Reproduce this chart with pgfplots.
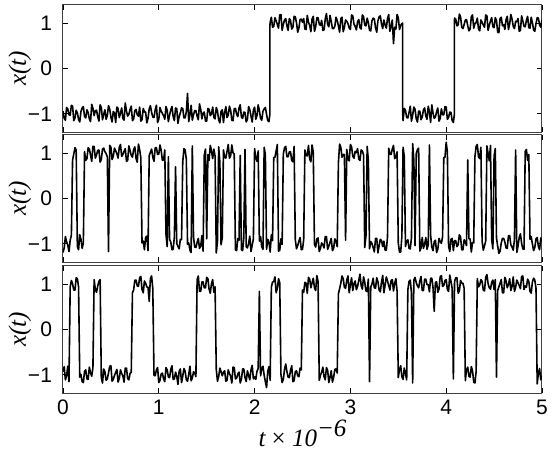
\documentclass[border=0pt]{standalone}
\usepackage{fontspec}
\setmainfont{Liberation Sans}
\newfontfamily\tfont{Liberation Serif}
\usepackage{pgfplots}
\pgfplotsset{compat=1.18}

\pgfplotsset{
  panel/.style={
    width=239.5pt, height=63.5pt, scale only axis,
    xmin=0, xmax=5, ymin=-1.4, ymax=1.4,
    xtick={0,1,2,3,4,5}, ytick={-1,0,1}, yticklabels={−1,0,1},
    tick align=inside, major tick length=2.5pt,
    tick style={black, line width=0.4pt},
    axis line style={line width=0.5pt, black!75},
    tick label style={font=\fontsize{10.5}{12}\selectfont},
    yticklabel style={xshift=-2pt},
    ylabel={\tfont\itshape x(t)},
    ylabel style={font=\fontsize{12.5}{14}\selectfont, at={(axis description cs:-0.09,0.5)}, anchor=center},
  },
  sig/.style={black, no marks, line width=0.8pt, line join=round},
}

\begin{document}
\begin{tikzpicture}
\path[use as bounding box] (-31.5pt,2.5pt) rectangle (245.5pt,-227.5pt);

% panel 1
\begin{axis}[panel, at={(0pt,0pt)}, anchor=north west, xticklabels={}]
\addplot[sig] coordinates {
(0,-0.94) (0.0125,-1.10) (0.025,-1.14) (0.0375,-0.86) (0.05,-0.89) (0.0625,-1.02) (0.075,-1.03) (0.0875,-0.81) (0.1,-0.83) (0.1125,-1.15)
(0.125,-1.09) (0.1375,-0.92) (0.15,-0.98) (0.1625,-1.12) (0.175,-1.18) (0.1875,-0.95) (0.2,-0.87) (0.2125,-0.84) (0.225,-1.06) (0.2375,-1.09)
(0.25,-0.91) (0.2625,-0.97) (0.275,-1.11) (0.2875,-1.17) (0.3,-0.79) (0.3125,-0.88) (0.325,-1.04) (0.3375,-0.93) (0.35,-0.92) (0.3625,-1.06)
(0.375,-1.16) (0.3875,-0.80) (0.4,-0.86) (0.4125,-1.13) (0.425,-1.01) (0.4375,-0.91) (0.45,-1.12) (0.4625,-1.04) (0.475,-0.82) (0.4875,-0.89)
(0.5,-1.07) (0.5125,-1.18) (0.525,-0.95) (0.5375,-0.98) (0.55,-1.19) (0.5625,-0.85) (0.575,-0.88) (0.5875,-1.08) (0.6,-0.99) (0.6125,-0.87)
(0.625,-1.10) (0.6375,-1.14) (0.65,-0.76) (0.6625,-0.94) (0.675,-1.05) (0.6875,-1.01) (0.7,-0.90) (0.7125,-0.83) (0.725,-1.15) (0.7375,-1.11)
(0.75,-0.93) (0.7625,-0.90) (0.775,-1.02) (0.7875,-1.05) (0.8,-0.85) (0.8125,-1.16) (0.825,-1.13) (0.8375,-0.88) (0.85,-0.96) (0.8625,-0.96)
(0.875,-1.20) (0.8875,-1.10) (0.9,-0.89) (0.9125,-0.82) (0.925,-0.97) (0.9375,-1.07) (0.95,-1.08) (0.9625,-0.91) (0.975,-0.81) (0.9875,-1.19)
(1.0,-1.12) (1.0125,-0.86) (1.025,-0.94) (1.0375,-0.99) (1.05,-1.04) (1.0625,-1.12) (1.075,-0.84) (1.0875,-0.92) (1.1,-1.17) (1.1125,-1.03)
(1.125,-0.91) (1.1375,-0.84) (1.15,-1.06) (1.1625,-1.15) (1.175,-0.87) (1.1875,-0.89) (1.2,-1.21) (1.2125,-1.06) (1.225,-0.98) (1.2375,-0.87)
(1.25,-0.88) (1.2625,-1.09) (1.275,-1.09) (1.2875,-0.95) (1.3,-0.55) (1.3125,-1.17) (1.325,-1.02) (1.3375,-0.81) (1.35,-1.14) (1.3625,-1.02)
(1.375,-0.93) (1.3875,-0.93) (1.4,-1.05) (1.4125,-1.13) (1.425,-0.78) (1.4375,-0.90) (1.45,-1.11) (1.4625,-0.98) (1.475,-0.96) (1.4875,-1.16)
(1.5,-1.16) (1.5125,-0.88) (1.525,-0.90) (1.5375,-1.04) (1.55,-1.00) (1.5625,-0.85) (1.575,-1.08) (1.5875,-1.11) (1.6,-0.86) (1.6125,-0.94)
(1.625,-1.13) (1.6375,-1.20) (1.65,-0.95) (1.6625,-0.91) (1.675,-1.19) (1.6875,-0.97) (1.7,-0.84) (1.7125,-1.08) (1.725,-1.03) (1.7375,-0.83)
(1.75,-0.92) (1.7625,-1.14) (1.775,-1.15) (1.7875,-0.89) (1.8,-0.88) (1.8125,-1.01) (1.825,-1.06) (1.8375,-0.87) (1.85,-0.80) (1.8625,-1.07)
(1.875,-1.10) (1.8875,-0.96) (1.9,-0.97) (1.9125,-1.18) (1.925,-1.12) (1.9375,-0.84) (1.95,-0.91) (1.9625,-1.05) (1.975,-1.18) (1.9875,-0.92)
(2.0,-0.85) (2.0125,-1.12) (2.025,-1.04) (2.0375,-0.80) (2.05,-0.93) (2.0625,-1.10) (2.075,-1.14) (2.0875,-0.94) (2.1,-0.89) (2.1125,-0.86)
(2.125,-1.01) (2.1375,-1.15) (2.15,-1.17) (2.16,-1.0) (2.16,0.95) (2.1625,1.02) (2.175,1.13) (2.1875,0.91)
(2.2,0.93) (2.2125,1.12) (2.225,1.05) (2.2375,0.97) (2.25,0.89) (2.2625,1.18) (2.275,1.19) (2.2875,0.84) (2.3,0.97) (2.3125,1.07)
(2.325,1.10) (2.3375,0.94) (2.35,0.84) (2.3625,1.10) (2.375,1.06) (2.3875,0.87) (2.4,0.91) (2.4125,1.15) (2.425,1.14) (2.4375,1.01)
(2.45,0.80) (2.4625,0.89) (2.475,1.08) (2.4875,1.09) (2.5,1.02) (2.5125,1.10) (2.525,0.87) (2.5375,0.86) (2.55,1.17) (2.5625,1.02)
(2.575,0.95) (2.5875,0.81) (2.6,1.09) (2.6125,1.15) (2.625,0.82) (2.6375,0.92) (2.65,1.12) (2.6625,1.12) (2.675,0.98) (2.6875,0.95)
(2.7,1.06) (2.7125,0.84) (2.725,0.85) (2.7375,1.09) (2.75,1.21) (2.7625,0.97) (2.775,0.92) (2.7875,1.17) (2.8,1.04) (2.8125,0.88)
(2.825,0.88) (2.8375,0.93) (2.85,1.13) (2.8625,1.06) (2.875,0.94) (2.8875,0.80) (2.9,1.10) (2.9125,1.13) (2.925,0.81) (2.9375,0.91)
(2.95,1.07) (2.9625,1.04) (2.975,0.99) (2.9875,0.89) (3.0,0.86) (3.0125,1.18) (3.025,1.16) (3.0375,0.98) (3.05,0.93) (3.0625,0.85)
(3.075,1.03) (3.0875,1.08) (3.1,0.90) (3.1125,0.87) (3.125,1.18) (3.1375,1.14) (3.15,0.96) (3.1625,0.94) (3.175,1.11) (3.1875,1.01)
(3.2,0.84) (3.2125,0.83) (3.225,1.05) (3.2375,1.11) (3.25,1.09) (3.2625,0.90) (3.275,0.80) (3.2875,1.05) (3.3,1.14) (3.3125,1.16)
(3.325,0.98) (3.3375,0.88) (3.35,1.07) (3.3625,0.96) (3.375,0.89) (3.3875,1.10) (3.4,1.19) (3.4125,0.82) (3.425,0.94) (3.4375,1.07)
(3.45,0.55) (3.4625,0.91) (3.475,0.87) (3.4875,1.19) (3.5,1.12) (3.5125,0.86) (3.525,0.95) (3.5375,0.99) (3.546,1.0) (3.546,-0.98)
(3.55,-1.15) (3.5625,-0.88) (3.575,-0.92) (3.5875,-1.08) (3.6,-1.09) (3.6125,-0.97) (3.625,-0.83) (3.6375,-1.16) (3.65,-1.03) (3.6625,-0.85)
(3.675,-0.90) (3.6875,-1.11) (3.7,-1.18) (3.7125,-0.94) (3.725,-0.94) (3.7375,-1.13) (3.75,-1.07) (3.7625,-0.91) (3.775,-0.87) (3.7875,-1.05)
(3.8,-1.12) (3.8125,-0.83) (3.825,-0.96) (3.8375,-1.19) (3.85,-0.80) (3.8625,-0.98) (3.875,-1.10) (3.8875,-1.07) (3.9,-0.95) (3.9125,-0.87)
(3.925,-1.16) (3.9375,-1.10) (3.95,-0.89) (3.9625,-1.02) (3.975,-1.02) (3.9875,-0.84) (4.0,-0.85) (4.0125,-1.12) (4.025,-1.08) (4.0375,-0.96)
(4.05,-0.97) (4.0625,-1.15) (4.075,-1.19) (4.086,-1.0) (4.086,0.97) (4.0875,1.11)
(4.1,1.09) (4.1125,0.94) (4.125,0.96) (4.1375,1.20) (4.15,1.14) (4.1625,0.91) (4.175,0.88) (4.1875,0.97) (4.2,1.07) (4.2125,1.08)
(4.225,0.94) (4.2375,0.83) (4.25,0.87) (4.2625,1.14) (4.275,1.18) (4.2875,0.89) (4.3,0.99) (4.3125,1.01) (4.325,1.11) (4.3375,0.87)
(4.35,0.83) (4.3625,1.07) (4.375,1.02) (4.3875,0.96) (4.4,0.91) (4.4125,1.18) (4.425,1.16) (4.4375,0.84) (4.45,0.95) (4.4625,1.05)
(4.475,1.12) (4.4875,0.92) (4.5,0.90) (4.5125,1.12) (4.525,1.06) (4.5375,0.80) (4.55,0.79) (4.5625,1.10) (4.575,1.13) (4.5875,0.94)
(4.6,0.97) (4.6125,0.86) (4.625,1.08) (4.6375,1.15) (4.65,0.86) (4.6625,0.98) (4.675,1.19) (4.6875,1.09) (4.7,0.93) (4.7125,0.88)
(4.725,1.04) (4.7375,1.03) (4.75,1.10) (4.7625,0.82) (4.775,0.84) (4.7875,1.16) (4.8,1.05) (4.8125,0.93) (4.825,0.92) (4.8375,1.06)
(4.85,1.15) (4.8625,0.90) (4.875,0.89) (4.8875,1.13) (4.9,1.01) (4.9125,0.85) (4.925,0.82) (4.9375,0.99) (4.95,1.12) (4.9625,1.11)
(4.975,0.96) (4.9875,0.91) (5.0,1.07)
};
\end{axis}

% panel 2
\begin{axis}[panel, at={(0pt,-65pt)}, anchor=north west, xticklabels={}]
\addplot[sig] coordinates {
(0,-1.19) (0.0125,-1.09) (0.025,-0.84) (0.0375,-0.95) (0.05,-1.03) (0.0625,-1.17) (0.075,-0.92) (0.0875,-0.81) (0.1,0.85) (0.1125,0.98)
(0.125,1.12) (0.1375,1.07) (0.15,-1.06) (0.1625,-1.13) (0.175,-0.80) (0.1875,-0.90) (0.2,-1.10) (0.2125,-0.98) (0.225,1.03) (0.2375,0.84)
(0.25,0.88) (0.2625,1.12) (0.275,1.09) (0.2875,0.96) (0.3,0.82) (0.3125,1.15) (0.325,1.15) (0.3375,0.89) (0.35,0.96) (0.3625,1.06)
(0.375,1.07) (0.3875,0.80) (0.4,0.86) (0.4125,1.09) (0.425,1.11) (0.4375,1.03) (0.45,0.99) (0.4625,0.92) (0.475,-1.17) (0.4875,1.17)
(0.5,1.13) (0.5125,0.86) (0.525,0.93) (0.5375,1.11) (0.55,1.05) (0.5625,0.99) (0.575,0.89) (0.5875,1.13) (0.6,1.19) (0.6125,0.93)
(0.625,0.97) (0.6375,1.04) (0.65,1.10) (0.6625,0.82) (0.675,0.84) (0.6875,1.16) (0.7,1.06) (0.7125,0.95) (0.725,0.91) (0.7375,1.08)
(0.75,1.14) (0.7625,0.88) (0.775,0.80) (0.7875,1.20) (0.8,1.08) (0.8125,0.90) (0.825,-0.98) (0.8375,-0.94) (0.85,-1.13) (0.8625,-0.86)
(0.875,-0.83) (0.8875,-1.15) (0.9,0.95) (0.9125,1.02) (0.925,1.09) (0.9375,0.91) (0.95,0.82) (0.9625,1.12) (0.975,1.12) (0.9875,0.97)
(1.0,0.98) (1.0125,1.18) (1.025,1.06) (1.0375,0.84) (1.05,0.85) (1.0625,1.07) (1.075,-0.79) (1.0875,-1.06) (1.1,0.92) (1.1125,-0.90)
(1.125,-0.96) (1.1375,-1.13) (1.15,-1.12) (1.1625,-0.85) (1.175,0.70) (1.1875,-0.99) (1.2,-1.06) (1.2125,-1.11) (1.225,-0.90) (1.2375,-0.91)
(1.25,0.81) (1.2625,1.10) (1.275,1.07) (1.2875,0.86) (1.3,-1.01) (1.3125,-0.98) (1.325,-1.14) (1.3375,-1.19) (1.35,1.16) (1.3625,-0.85)
(1.375,-1.07) (1.3875,-1.08) (1.4,-0.97) (1.4125,-0.88) (1.425,-1.10) (1.4375,-1.05) (1.45,-0.82) (1.4625,-1.16) (1.475,0.96) (1.4875,1.09)
(1.5,-0.89) (1.5125,0.97) (1.525,0.84) (1.5375,1.17) (1.55,1.05) (1.5625,0.88) (1.575,1.09) (1.5875,0.93) (1.6,-1.20) (1.6125,-0.94)
(1.625,1.14) (1.6375,0.80) (1.65,-1.02) (1.6625,-0.87) (1.675,1.07) (1.6875,0.91) (1.7,0.89) (1.7125,1.04) (1.725,1.19) (1.7375,0.89)
(1.75,0.94) (1.7625,1.18) (1.775,1.01) (1.7875,0.98) (1.8,-1.13) (1.8125,-1.15) (1.825,-0.88) (1.8375,-0.92) (1.85,0.95) (1.8625,-1.13)
(1.875,-1.15) (1.8875,-0.86) (1.9,1.08) (1.9125,-1.06) (1.925,-1.09) (1.9375,-0.99) (1.95,-0.83) (1.9625,-1.17) (1.975,-1.03) (1.9875,-0.89)
(2.0,1.10) (2.0125,0.90) (2.025,0.82) (2.0375,1.05) (2.05,-0.94) (2.0625,-0.84) (2.075,-1.07) (2.0875,-1.12) (2.1,1.13) (2.1125,0.96)
(2.125,-1.12) (2.1375,-0.90) (2.15,-0.96) (2.1625,-1.18) (2.175,-0.80) (2.1875,-0.93) (2.2,0.90) (2.2125,0.91) (2.225,1.05) (2.2375,1.19)
(2.25,-1.16) (2.2625,-1.14) (2.275,-0.89) (2.2875,-1.01) (2.3,0.98) (2.3125,1.12) (2.325,1.15) (2.3375,0.92) (2.35,0.92) (2.3625,1.03)
(2.375,1.03) (2.3875,0.84) (2.4,0.81) (2.4125,1.15) (2.425,-0.91) (2.4375,-1.11) (2.45,-1.04) (2.4625,-0.94) (2.475,-0.86) (2.4875,-1.13)
(2.5,-1.12) (2.5125,-0.91) (2.525,1.07) (2.5375,0.95) (2.55,0.94) (2.5625,1.17) (2.575,0.87) (2.5875,0.81) (2.6,1.18) (2.6125,1.02)
(2.625,-1.01) (2.6375,-1.07) (2.65,-0.89) (2.6625,-0.87) (2.675,-1.17) (2.6875,-1.10) (2.7,-0.98) (2.7125,-1.02) (2.725,-1.09) (2.7375,-0.84)
(2.75,-0.84) (2.7625,-1.12) (2.775,-1.05) (2.7875,-0.96) (2.8,-0.88) (2.8125,-1.15) (2.825,-1.10) (2.8375,-0.89) (2.85,-0.94) (2.8625,-1.06)
(2.875,0.79) (2.8875,1.20) (2.9,1.13) (2.9125,0.91) (2.925,0.97) (2.9375,0.97) (2.95,-0.92) (2.9625,1.08) (2.975,0.86) (2.9875,0.83)
(3.0,1.19) (3.0125,1.14) (3.025,0.93) (3.0375,0.89) (3.05,1.04) (3.0625,1.01) (3.075,1.10) (3.0875,0.87) (3.1,0.84) (3.1125,1.07)
(3.125,1.05) (3.1375,0.96) (3.15,-1.08) (3.1625,-0.82) (3.175,1.15) (3.1875,0.84) (3.2,-1.11) (3.2125,-0.95) (3.225,-0.99) (3.2375,-1.08)
(3.25,-1.18) (3.2625,-0.88) (3.275,-0.88) (3.2875,-1.20) (3.3,-1.04) (3.3125,-0.90) (3.325,-0.93) (3.3375,-1.06) (3.35,-0.94) (3.3625,-1.14)
(3.375,-1.14) (3.3875,-0.85) (3.4,1.11) (3.4125,0.98) (3.425,0.97) (3.4375,1.09) (3.45,1.17) (3.4625,0.88) (3.475,0.91) (3.4875,1.03)
(3.5,-0.98) (3.5125,-1.18) (3.525,-1.18) (3.5375,-0.84) (3.55,1.13) (3.5625,0.93) (3.575,-1.06) (3.5875,-0.94) (3.6,-0.91) (3.6125,-1.10)
(3.625,-1.11) (3.6375,-0.87) (3.65,1.21) (3.6625,0.85) (3.675,-1.04) (3.6875,0.99) (3.7,1.08) (3.7125,1.11) (3.725,-1.16) (3.7375,-1.09)
(3.75,-0.86) (3.7625,-1.10) (3.775,-1.01) (3.7875,-0.86) (3.8,-1.12) (3.8125,-1.02) (3.825,1.18) (3.8375,-0.81) (3.85,-1.07) (3.8625,-1.15)
(3.875,-0.95) (3.8875,-0.92) (3.9,-1.19) (3.9125,-1.12) (3.925,-0.88) (3.9375,-0.95) (3.95,-0.99) (3.9625,-0.84) (3.975,0.90) (3.9875,0.91)
(4.0,1.24) (4.0125,1.03) (4.025,-1.05) (4.0375,-1.17) (4.05,-0.90) (4.0625,-0.88) (4.075,-1.15) (4.0875,-0.93) (4.1,-0.93) (4.1125,-1.06)
(4.125,-1.02) (4.1375,-0.80) (4.15,-0.85) (4.1625,-1.13) (4.175,-1.13) (4.1875,-0.91) (4.2,-0.96) (4.2125,-1.04) (4.225,0.85) (4.2375,-0.89)
(4.25,-0.89) (4.2625,-1.18) (4.275,-0.97) (4.2875,-0.98) (4.3,0.92) (4.3125,1.15) (4.325,1.19) (4.3375,0.92) (4.35,0.88) (4.3625,1.13)
(4.375,-0.94) (4.3875,-1.14) (4.4,-1.04) (4.4125,-0.94) (4.425,1.16) (4.4375,0.99) (4.45,0.83) (4.4625,1.17) (4.475,-0.91) (4.4875,-1.11)
(4.5,0.94) (4.5125,1.10) (4.525,-0.87) (4.5375,-1.05) (4.55,-1.21) (4.5625,-1.16) (4.575,-0.98) (4.5875,-0.88) (4.6,-0.88) (4.6125,-0.96)
(4.625,-1.09) (4.6375,-1.10) (4.65,-0.82) (4.6625,-0.82) (4.675,-1.02) (4.6875,-1.07) (4.7,-1.14) (4.7125,-0.91) (4.725,1.07) (4.7375,-1.19)
(4.75,-1.05) (4.7625,-0.86) (4.775,-0.78) (4.7875,-0.99) (4.8,-1.11) (4.8125,-1.12) (4.825,1.04) (4.8375,1.08) (4.85,0.84) (4.8625,0.97)
(4.875,-0.90) (4.8875,-0.84) (4.9,-1.00) (4.9125,-1.15) (4.925,-1.08) (4.9375,-0.89) (4.95,-0.86) (4.9625,-1.06) (4.975,-1.13) (4.9875,-0.87)
(5.0,-0.95)
};
\end{axis}

% panel 3
\begin{axis}[panel, at={(0pt,-130.5pt)}, anchor=north west,
  xticklabels={0,1,2,3,4,5},
  xlabel={\tfont\itshape t {\upshape ×} 10\raisebox{0.85ex}{−6}},
  xlabel style={font=\fontsize{12.5}{14}\selectfont, at={(axis description cs:0.5,-0.42)}, anchor=base}]
\addplot[sig] coordinates {
(0,-0.93) (0.0125,-0.82) (0.025,-1.11) (0.0375,-1.02) (0.05,-0.81) (0.0625,-1.15) (0.075,0.94) (0.0875,1.08) (0.1,1.01) (0.1125,0.87)
(0.125,0.87) (0.1375,1.14) (0.15,1.12) (0.1625,0.94) (0.175,-1.05) (0.1875,-0.99) (0.2,-1.15) (0.2125,-1.17) (0.225,-0.92) (0.2375,-0.89)
(0.25,-1.09) (0.2625,-1.10) (0.275,-0.83) (0.2875,-0.95) (0.3,-1.03) (0.3125,-0.84) (0.325,1.10) (0.3375,0.88) (0.35,0.82) (0.3625,0.96)
(0.375,1.06) (0.3875,1.10) (0.4,-1.07) (0.4125,-1.18) (0.425,-0.87) (0.4375,-0.93) (0.45,-1.12) (0.4625,-1.09) (0.475,-0.96) (0.4875,-0.81)
(0.5,-0.80) (0.5125,-1.14) (0.525,-1.10) (0.5375,-1.01) (0.55,-0.95) (0.5625,-0.88) (0.575,-1.16) (0.5875,-1.08) (0.6,-0.89) (0.6125,-0.97)
(0.625,-1.02) (0.6375,-1.16) (0.65,-0.85) (0.6625,-0.85) (0.675,-1.08) (0.6875,-1.11) (0.7,-0.97) (0.7125,-0.94) (0.725,0.81) (0.7375,0.87)
(0.75,1.09) (0.7625,1.09) (0.775,0.96) (0.7875,0.95) (0.8,1.14) (0.8125,1.17) (0.825,0.88) (0.8375,0.81) (0.85,1.07) (0.8625,1.02)
(0.875,0.94) (0.8875,0.93) (0.9,0.62) (0.9125,1.13) (0.925,1.18) (0.9375,0.90) (0.95,-1.01) (0.9625,-1.02) (0.975,-0.89) (0.9875,-0.84)
(1.0,-1.17) (1.0125,-1.12) (1.025,-0.98) (1.0375,-0.96) (1.05,-1.09) (1.0625,-1.15) (1.075,-0.84) (1.0875,-0.89) (1.1,-1.05) (1.1125,-1.06)
(1.125,-0.88) (1.1375,-0.80) (1.15,-1.10) (1.1625,-1.09) (1.175,-0.94) (1.1875,-1.03) (1.2,-1.21) (1.2125,-0.92) (1.225,-0.87) (1.2375,-1.17)
(1.25,-1.03) (1.2625,-0.86) (1.275,-0.92) (1.2875,-1.11) (1.3,-1.14) (1.3125,-0.99) (1.325,-0.81) (1.3375,-1.13) (1.35,-1.07) (1.3625,-0.93)
(1.375,-0.96) (1.3875,-1.04) (1.4,1.10) (1.4125,1.18) (1.425,0.84) (1.4375,0.84) (1.45,1.05) (1.4625,1.05) (1.475,0.92) (1.4875,0.92)
(1.5,1.15) (1.5125,1.12) (1.525,0.89) (1.5375,0.80) (1.55,1.01) (1.5625,1.10) (1.575,0.82) (1.5875,0.94) (1.6,-0.88) (1.6125,-1.14)
(1.625,-1.04) (1.6375,-0.85) (1.65,-0.93) (1.6625,-1.02) (1.675,-0.94) (1.6875,-0.91) (1.7,-1.14) (1.7125,-1.12) (1.725,-0.89) (1.7375,-0.97)
(1.75,-1.03) (1.7625,-1.18) (1.775,-0.83) (1.7875,-0.84) (1.8,-1.09) (1.8125,-1.07) (1.825,-0.98) (1.8375,-0.94) (1.85,-1.18) (1.8625,-1.10)
(1.875,-0.87) (1.8875,-0.87) (1.9,-1.06) (1.9125,-1.15) (1.925,-0.91) (1.9375,-1.01) (1.95,-1.11) (1.9625,-0.89) (1.975,-0.79) (1.9875,-1.09)
(2.0,-1.04) (2.0125,-1.10) (2.025,-0.92) (2.0375,-0.86) (2.05,0.84) (2.0625,-1.02) (2.075,-0.86) (2.0875,-0.81) (2.1,-1.01) (2.1125,-1.15)
(2.125,-1.28) (2.1375,-0.92) (2.15,-0.82) (2.1625,-1.12) (2.175,0.93) (2.1875,1.05) (2.2,1.05) (2.2125,1.16) (2.225,0.81) (2.2375,0.91)
(2.25,1.12) (2.2625,1.03) (2.275,-0.99) (2.2875,-1.17) (2.3,-1.10) (2.3125,-0.88) (2.325,-0.76) (2.3375,-0.93) (2.35,-1.05) (2.3625,-1.06)
(2.375,-0.90) (2.3875,-0.80) (2.4,-1.15) (2.4125,-1.13) (2.425,-0.93) (2.4375,-0.91) (2.45,-1.02) (2.4625,-1.04) (2.475,-0.85) (2.4875,-0.89)
(2.5,0.87) (2.5125,0.82) (2.525,1.04) (2.5375,1.02) (2.55,0.80) (2.5625,1.15) (2.575,1.11) (2.5875,0.92) (2.6,1.03) (2.6125,1.13)
(2.625,0.92) (2.6375,0.86) (2.65,1.19) (2.6625,1.06) (2.675,-1.12) (2.6875,-1.01) (2.7,-0.94) (2.7125,-0.83) (2.725,-1.04) (2.7375,-1.11)
(2.75,-0.84) (2.7625,-0.90) (2.775,-1.17) (2.7875,-1.05) (2.8,-0.91) (2.8125,-1.16) (2.825,-1.06) (2.8375,-0.88) (2.85,-0.87) (2.8625,-0.96)
(2.875,0.79) (2.8875,0.90) (2.9,1.02) (2.9125,1.18) (2.925,1.12) (2.9375,0.93) (2.95,0.91) (2.9625,1.09) (2.975,1.18) (2.9875,0.81)
(3.0,0.98) (3.0125,1.14) (3.025,0.86) (3.0375,1.01) (3.05,1.07) (3.0625,0.88) (3.075,0.95) (3.0875,1.08) (3.1,1.22) (3.1125,0.97)
(3.125,0.89) (3.1375,1.16) (3.15,1.04) (3.1625,0.85) (3.175,0.84) (3.1875,1.11) (3.2,-1.15) (3.2125,0.94) (3.225,1.00) (3.2375,1.13)
(3.25,0.92) (3.2625,0.91) (3.275,1.14) (3.2875,1.05) (3.3,0.87) (3.3125,0.83) (3.325,1.05) (3.3375,1.19) (3.35,0.81) (3.3625,0.98)
(3.375,1.16) (3.3875,1.07) (3.4,0.97) (3.4125,0.87) (3.425,1.08) (3.4375,1.10) (3.45,0.85) (3.4625,1.02) (3.475,1.12) (3.4875,0.84)
(3.5,-1.06) (3.5125,-0.88) (3.525,-0.80) (3.5375,-1.04) (3.55,-1.10) (3.5625,-0.85) (3.575,-0.97) (3.5875,-1.11) (3.6,0.88) (3.6125,1.06)
(3.625,1.09) (3.6375,0.80) (3.65,-1.18) (3.6625,1.09) (3.675,1.15) (3.6875,1.03) (3.7,0.96) (3.7125,0.92) (3.725,1.07) (3.7375,1.17)
(3.75,0.86) (3.7625,0.86) (3.775,1.11) (3.7875,1.11) (3.8,0.99) (3.8125,0.99) (3.825,0.83) (3.8375,1.13) (3.85,1.13) (3.8625,0.93)
(3.875,0.40) (3.8875,1.04) (3.9,1.05) (3.9125,0.82) (3.925,0.89) (3.9375,1.16) (3.95,1.19) (3.9625,0.95) (3.975,0.97) (3.9875,1.08)
(4.0,1.10) (4.0125,0.88) (4.025,0.84) (4.0375,1.20) (4.05,1.06) (4.0625,0.90) (4.075,-1.09) (4.0875,1.06) (4.1,1.14) (4.1125,1.14)
(4.125,0.80) (4.1375,0.85) (4.15,1.08) (4.1625,1.02) (4.175,1.02) (4.1875,0.91) (4.2,-1.13) (4.2125,-0.88) (4.225,-0.83) (4.2375,-1.03)
(4.25,-1.05) (4.2625,-0.82) (4.275,-0.91) (4.2875,-1.16) (4.3,-1.18) (4.3125,-0.93) (4.325,1.12) (4.3375,0.94) (4.35,0.98) (4.3625,1.10)
(4.375,1.06) (4.3875,0.87) (4.4,0.85) (4.4125,1.15) (4.425,1.21) (4.4375,1.01) (4.45,0.92) (4.4625,0.89) (4.475,1.04) (4.4875,1.09)
(4.5,0.88) (4.5125,1.10) (4.525,-1.05) (4.5375,0.86) (4.55,0.94) (4.5625,1.02) (4.575,1.10) (4.5875,0.81) (4.6,0.81) (4.6125,1.15)
(4.625,1.07) (4.6375,0.92) (4.65,0.99) (4.6625,1.12) (4.675,0.86) (4.6875,0.95) (4.7,1.16) (4.7125,0.84) (4.725,0.93) (4.7375,1.09)
(4.75,1.03) (4.7625,0.97) (4.775,0.90) (4.7875,1.17) (4.8,1.18) (4.8125,0.88) (4.825,0.96) (4.8375,0.93) (4.85,1.11) (4.8625,1.06)
(4.875,0.84) (4.8875,0.80) (4.9,1.05) (4.9125,1.13) (4.925,1.09) (4.9375,0.91) (4.95,-1.20) (4.9625,-0.96) (4.975,-0.86) (4.9875,-1.11)
(5.0,-1.02)
};
\end{axis}
\end{tikzpicture}
\end{document}
